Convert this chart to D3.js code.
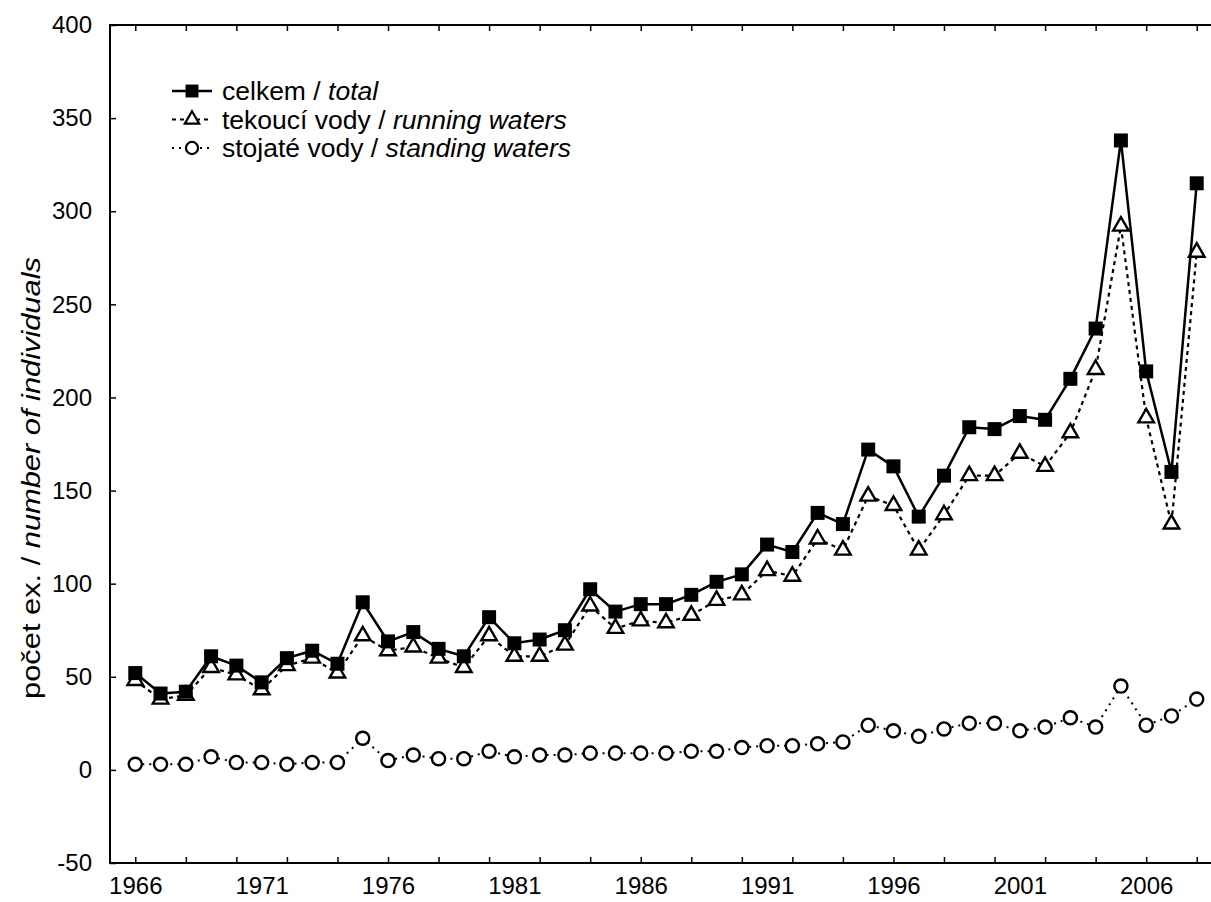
<!DOCTYPE html>
<html>
<head>
<meta charset="utf-8">
<script src="https://cdn.jsdelivr.net/npm/d3@7"></script>
<style>
	body { margin: 0; background: #fff; }
	svg { display: block; font-family: "Liberation Sans", Arial, sans-serif; }
	.tick text { fill: #000; }
</style>
</head>
<body>
<svg width="1211" height="902"></svg>
<script>
var years = [1966, 1967, 1968, 1969, 1970, 1971, 1972, 1973, 1974, 1975,
	1976, 1977, 1978, 1979, 1980, 1981, 1982, 1983, 1984, 1985,
	1986, 1987, 1988, 1989, 1990, 1991, 1992, 1993, 1994, 1995,
	1996, 1997, 1998, 1999, 2000, 2001, 2002, 2003, 2004, 2005,
	2006, 2007, 2008];

// celkem / total
var total = [52, 41, 42, 61, 56, 47, 60, 64, 57, 90,
	69, 74, 65, 61, 82, 68, 70, 75, 97, 85,
	89, 89, 94, 101, 105, 121, 117, 138, 132, 172,
	163, 136, 158, 184, 183, 190, 188, 210, 237, 338,
	214, 160, 315];

// tekoucí vody / running waters
var running = [48, 38, 40, 55, 51, 43, 56, 60, 52, 72,
	64, 66, 60, 55, 72, 61, 61, 67, 88, 76,
	80, 79, 83, 91, 94, 107, 104, 124, 118, 147,
	142, 118, 137, 158, 158, 170, 163, 181, 215, 292,
	189, 132, 278];

// stojaté vody / standing waters
var standing = [3, 3, 3, 7, 4, 4, 3, 4, 4, 17,
	5, 8, 6, 6, 10, 7, 8, 8, 9, 9,
	9, 9, 10, 10, 12, 13, 13, 14, 15, 24,
	21, 18, 22, 25, 25, 21, 23, 28, 23, 45,
	24, 29, 38];

var xTicks = [1966, 1968, 1970, 1972, 1974, 1976, 1978, 1980, 1982, 1984, 1986,
	1988, 1990, 1992, 1994, 1996, 1998, 2000, 2002, 2004, 2006, 2008];
var xLabels = [1966, 1971, 1976, 1981, 1986, 1991, 1996, 2001, 2006];
var yTicks = [-50, 0, 50, 100, 150, 200, 250, 300, 350, 400];

var svg = d3.select("svg");

var plotLeft = 110, plotRight = 1222, plotTop = 25, plotBottom = 863;

var x = d3.scaleLinear().domain([1965, 2009]).range([plotLeft, plotRight]);
var y = d3.scaleLinear().domain([-50, 400]).range([plotBottom, plotTop]);

function noDomain(g){ g.select(".domain").remove(); }

// ticks pointing inward
svg.append("g")
	.attr("transform", "translate(0," + plotBottom + ")")
	.call(d3.axisBottom(x).tickValues(xTicks).tickSizeInner(-6).tickSizeOuter(0).tickFormat(""))
	.call(noDomain);

svg.append("g")
	.attr("transform", "translate(0," + plotTop + ")")
	.call(d3.axisTop(x).tickValues(xTicks).tickSizeInner(-6).tickSizeOuter(0).tickFormat(""))
	.call(noDomain);

svg.append("g")
	.attr("transform", "translate(" + plotLeft + ",0)")
	.call(d3.axisLeft(y).tickValues(yTicks).tickSizeInner(-6).tickSizeOuter(0).tickFormat(""))
	.call(noDomain);

svg.selectAll(".tick line").attr("stroke", "#000").attr("stroke-width", 1.5);

// labels
svg.append("g")
	.attr("transform", "translate(0," + plotBottom + ")")
	.call(d3.axisBottom(x).tickValues(xLabels).tickSize(0).tickPadding(14).tickFormat(String))
	.call(function(g){
		noDomain(g);
		g.selectAll("text").attr("font-size", 24).attr("font-family", "Liberation Sans, Arial, sans-serif");
	});

svg.append("g")
	.attr("transform", "translate(" + plotLeft + ",0)")
	.call(d3.axisLeft(y).tickValues(yTicks).tickSize(0).tickPadding(18).tickFormat(String))
	.call(function(g){
		noDomain(g);
		g.selectAll("text").attr("font-size", 24).attr("font-family", "Liberation Sans, Arial, sans-serif");
	});

// frame
svg.append("rect")
	.attr("x", plotLeft)
	.attr("y", plotTop)
	.attr("width", plotRight - plotLeft)
	.attr("height", plotBottom - plotTop)
	.attr("fill", "none")
	.attr("stroke", "#000")
	.attr("stroke-width", 2);

// y axis title, stretched along its length to the reference's span
var yTitle = svg.append("text")
	.attr("text-anchor", "middle")
	.attr("font-size", 25);
yTitle.append("tspan").text("počet ex. / ");
yTitle.append("tspan").attr("font-style", "italic").text("number of individuals");
var titleLen = yTitle.node().getComputedTextLength();
yTitle.attr("transform", "translate(40,478) rotate(-90) scale(" + (442 / titleLen) + ",1)");

var series = [
	{ name: "celkem / ", en: "total", values: total, dash: null, symbol: d3.symbolSquare, size: 196, fill: "#000", sw: 2.5 },
	{ name: "tekoucí vody / ", en: "running waters", values: running, dash: "4,4", symbol: d3.symbolTriangle, size: 105, fill: "#fff", sw: 2.2 },
	{ name: "stojaté vody / ", en: "standing waters", values: standing, dash: "2,5", symbol: d3.symbolCircle, size: 135, fill: "#fff", sw: 2 }
];

var line = d3.line()
	.x(function(d){ return x(d.year); })
	.y(function(d){ return y(d.value); });

// draw standing first so the total sits on top
series.slice().reverse().forEach(function(s){
	var pts = years.map(function(yr, i){ return { year: yr, value: s.values[i] }; });
	var g = svg.append("g");
	g.append("path")
		.datum(pts)
		.attr("d", line)
		.attr("fill", "none")
		.attr("stroke", "#000")
		.attr("stroke-width", s.sw)
		.attr("stroke-dasharray", s.dash);
	g.selectAll("path.mark").data(pts).enter()
		.append("path")
		.attr("class", "mark")
		.attr("d", d3.symbol().type(s.symbol).size(s.size))
		.attr("transform", function(d){ return "translate(" + x(d.year) + "," + y(d.value) + ")"; })
		.attr("fill", s.fill)
		.attr("stroke", "#000")
		.attr("stroke-width", s.symbol === d3.symbolSquare ? 0 : 2.4);
});

// legend
var legend = svg.append("g").attr("transform", "translate(172,91)");
series.forEach(function(s, i){
	var row = legend.append("g").attr("transform", "translate(0," + (i * 28.5) + ")");
	row.append("line")
		.attr("x1", 0).attr("x2", 40)
		.attr("stroke", "#000")
		.attr("stroke-width", s.sw)
		.attr("stroke-dasharray", s.dash);
	row.append("path")
		.attr("d", d3.symbol().type(s.symbol).size(s.size * 0.85))
		.attr("transform", "translate(20,0)")
		.attr("fill", s.fill)
		.attr("stroke", "#000")
		.attr("stroke-width", s.symbol === d3.symbolSquare ? 0 : 2.2);
	var t = row.append("text")
		.attr("x", 50)
		.attr("dy", "0.35em")
		.attr("font-size", 26.5);
	t.append("tspan").text(s.name);
	t.append("tspan").attr("font-style", "italic").text(s.en);
});
</script>
</body>
</html>
